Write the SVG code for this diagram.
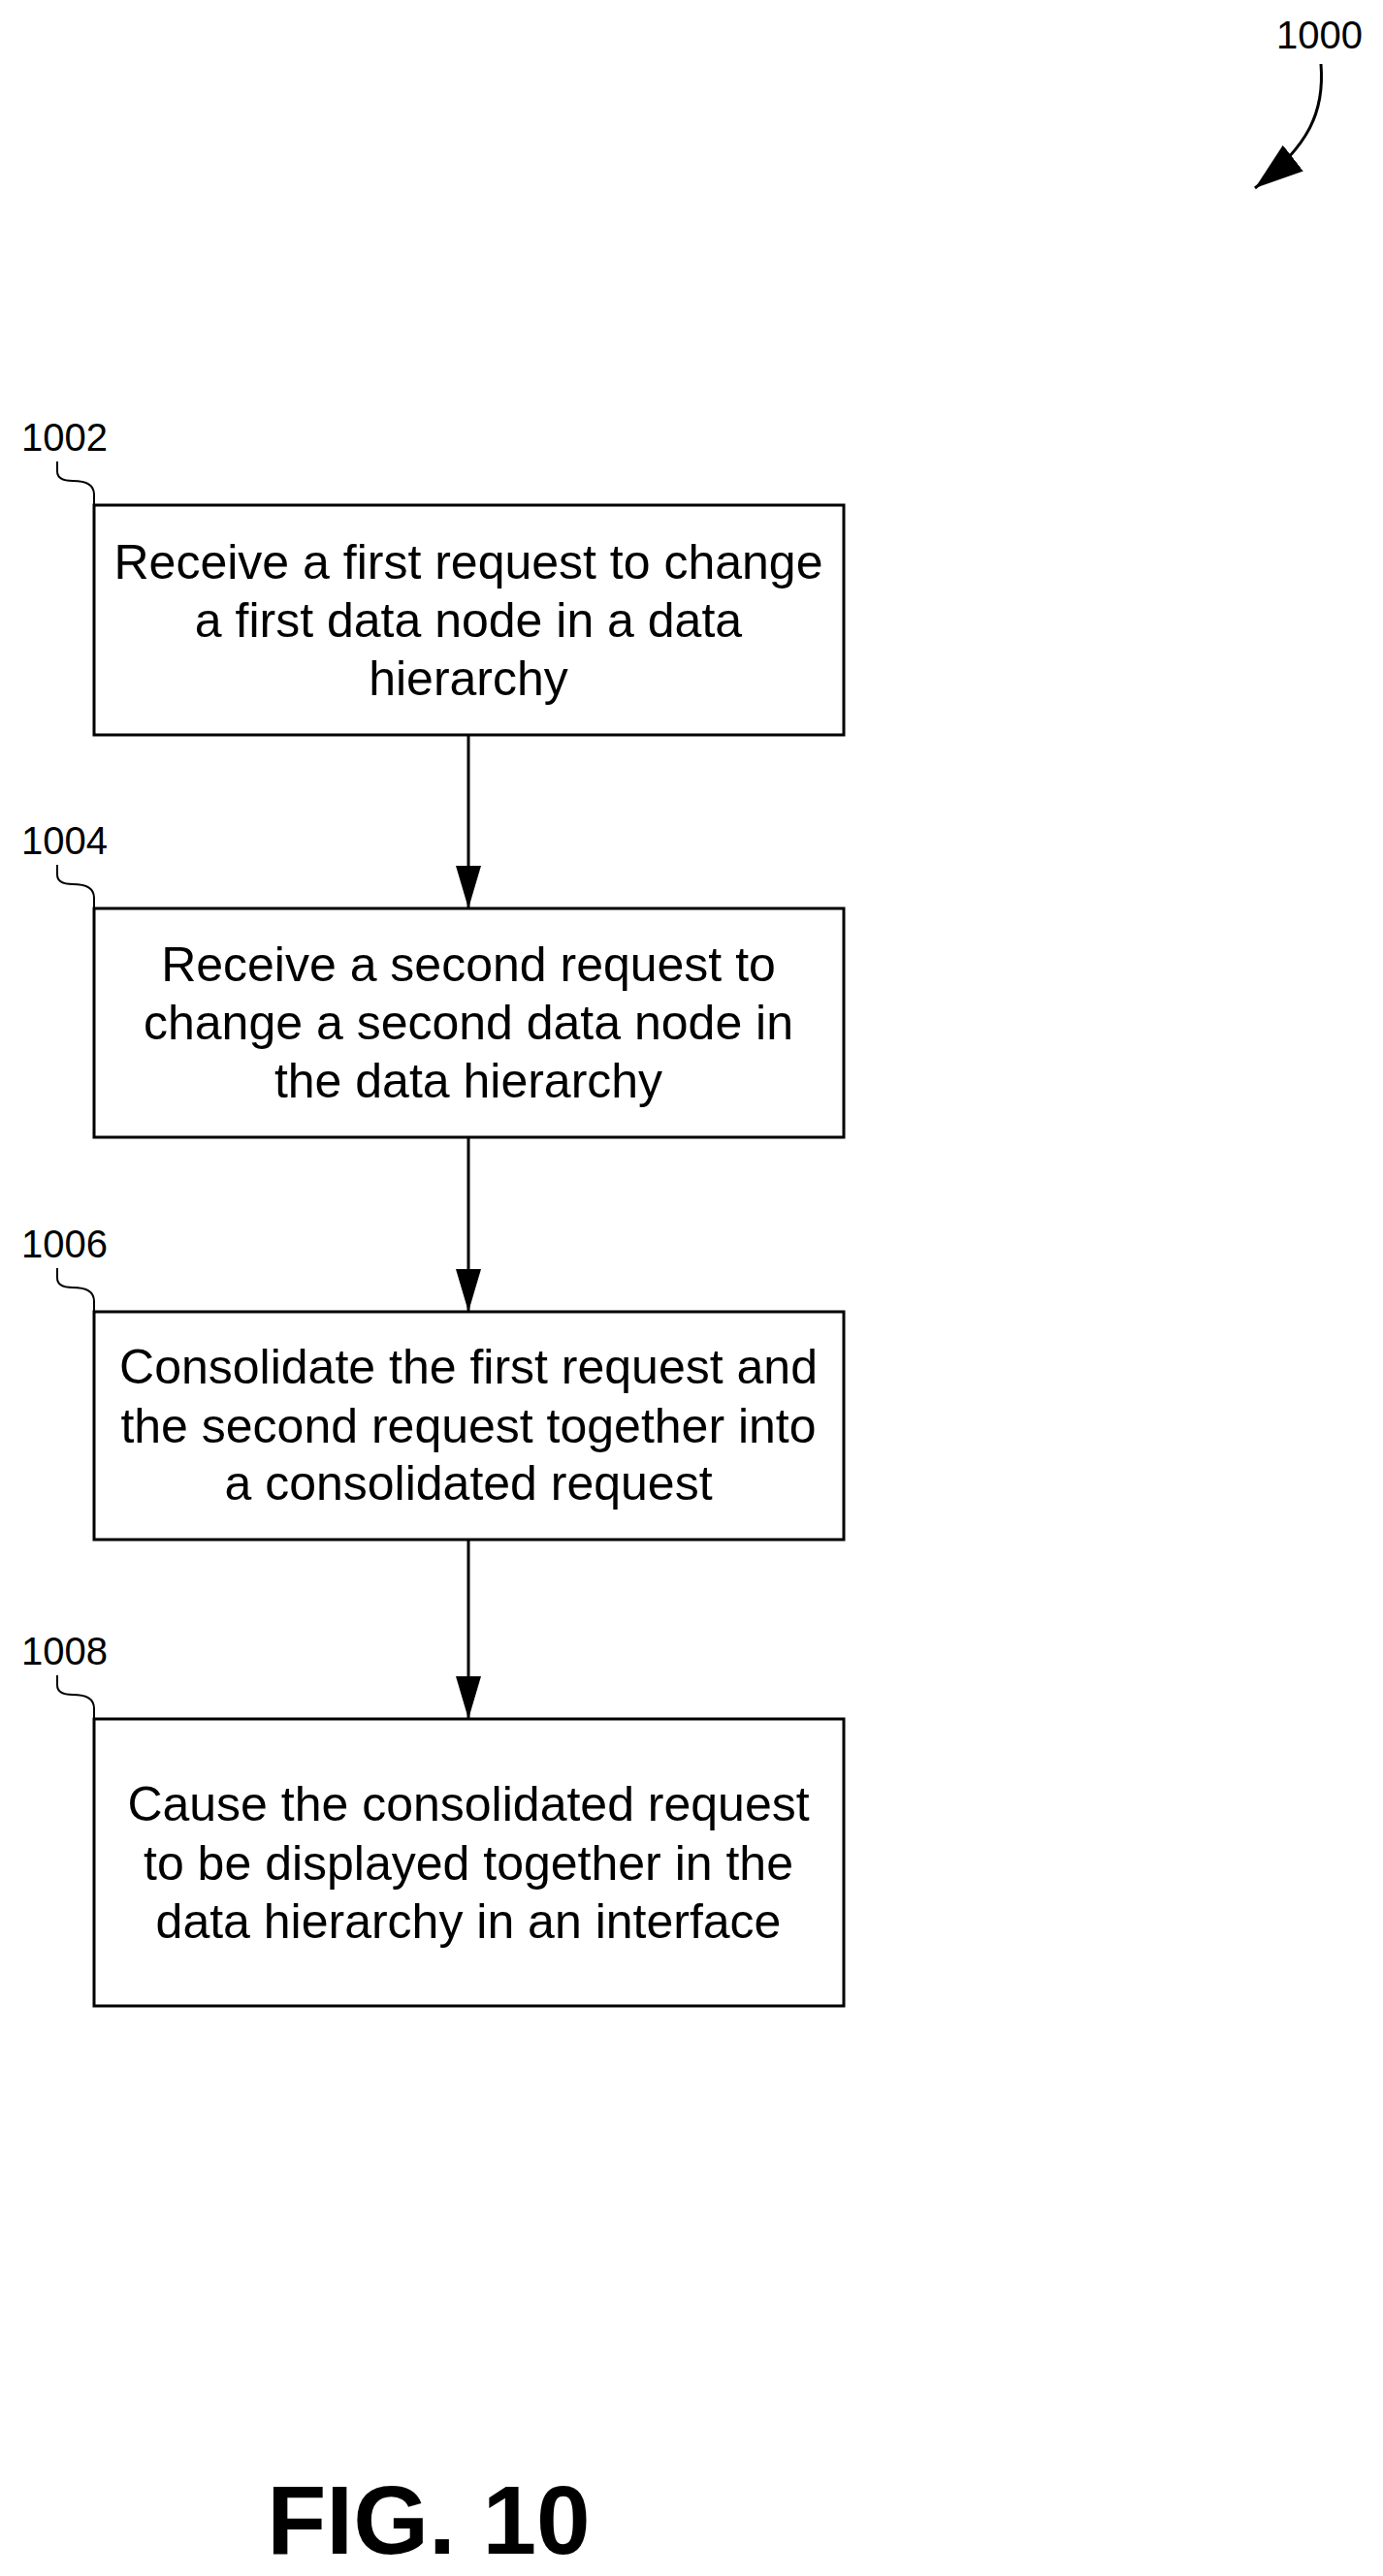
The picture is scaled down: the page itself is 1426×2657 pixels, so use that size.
<svg xmlns="http://www.w3.org/2000/svg" width="1426" height="2657" viewBox="0 0 1426 2657">
<style>
.box{fill:#fff;stroke:#000;stroke-width:3}
.t{font-family:"Liberation Sans",Arial,sans-serif;font-size:50px;text-anchor:middle;fill:#000}
.lbl{font-family:"Liberation Sans",Arial,sans-serif;font-size:40px;fill:#000}
.ln{fill:none;stroke:#000;stroke-width:3}
.lead{fill:none;stroke:#000;stroke-width:2}
</style>
<defs>
<marker id="ah2" markerWidth="44" markerHeight="26" refX="44" refY="13" orient="auto" markerUnits="userSpaceOnUse">
<path d="M0,0 L44,13 L0,26 Z" fill="#000"/>
</marker>
<marker id="ah3" markerWidth="50" markerHeight="34" refX="50" refY="17" orient="auto" markerUnits="userSpaceOnUse">
<path d="M0,0 L50,17 L0,34 Z" fill="#000"/>
</marker>
</defs>
<rect width="1426" height="2657" fill="#fff"/>
<g id="ref1000">
<text class="lbl" x="1316" y="50">1000</text>
<path class="ln" d="M1362,66 C1366,115 1350,150 1294,194" marker-end="url(#ah3)"/>
</g>
<g id="n1002">
<rect class="box" x="97" y="521" width="773" height="237"/>
<text class="lbl" x="22" y="465">1002</text>
<path class="lead" d="M59,476 L59,486 Q59,496 75,496 Q97,496 97,510 L97,521"/>
<text class="t" x="483" y="597">Receive a first request to change</text>
<text class="t" x="483" y="657">a first data node in a data</text>
<text class="t" x="483" y="717">hierarchy</text>
</g>
<g id="n1004">
<rect class="box" x="97" y="937" width="773" height="236"/>
<text class="lbl" x="22" y="881">1004</text>
<path class="lead" d="M59,892 L59,902 Q59,912 75,912 Q97,912 97,926 L97,937"/>
<text class="t" x="483" y="1012">Receive a second request to</text>
<text class="t" x="483" y="1072">change a second data node in</text>
<text class="t" x="483" y="1132">the data hierarchy</text>
</g>
<g id="n1006">
<rect class="box" x="97" y="1353" width="773" height="235"/>
<text class="lbl" x="22" y="1297">1006</text>
<path class="lead" d="M59,1308 L59,1318 Q59,1328 75,1328 Q97,1328 97,1342 L97,1353"/>
<text class="t" x="483" y="1427">Consolidate the first request and</text>
<text class="t" x="483" y="1488">the second request together into</text>
<text class="t" x="483" y="1547">a consolidated request</text>
</g>
<g id="n1008">
<rect class="box" x="97" y="1773" width="773" height="296"/>
<text class="lbl" x="22" y="1717">1008</text>
<path class="lead" d="M59,1728 L59,1738 Q59,1748 75,1748 Q97,1748 97,1762 L97,1773"/>
<text class="t" x="483" y="1878">Cause the consolidated request</text>
<text class="t" x="483" y="1939">to be displayed together in the</text>
<text class="t" x="483" y="1999">data hierarchy in an interface</text>
</g>
<g id="connectors">
<path class="ln" d="M483,758 L483,937" marker-end="url(#ah2)"/>
<path class="ln" d="M483,1173 L483,1353" marker-end="url(#ah2)"/>
<path class="ln" d="M483,1588 L483,1773" marker-end="url(#ah2)"/>
</g>
<text x="442" y="2634" font-family="Liberation Sans,Arial,sans-serif" font-weight="bold" font-size="100" text-anchor="middle">FIG. 10</text>
</svg>
